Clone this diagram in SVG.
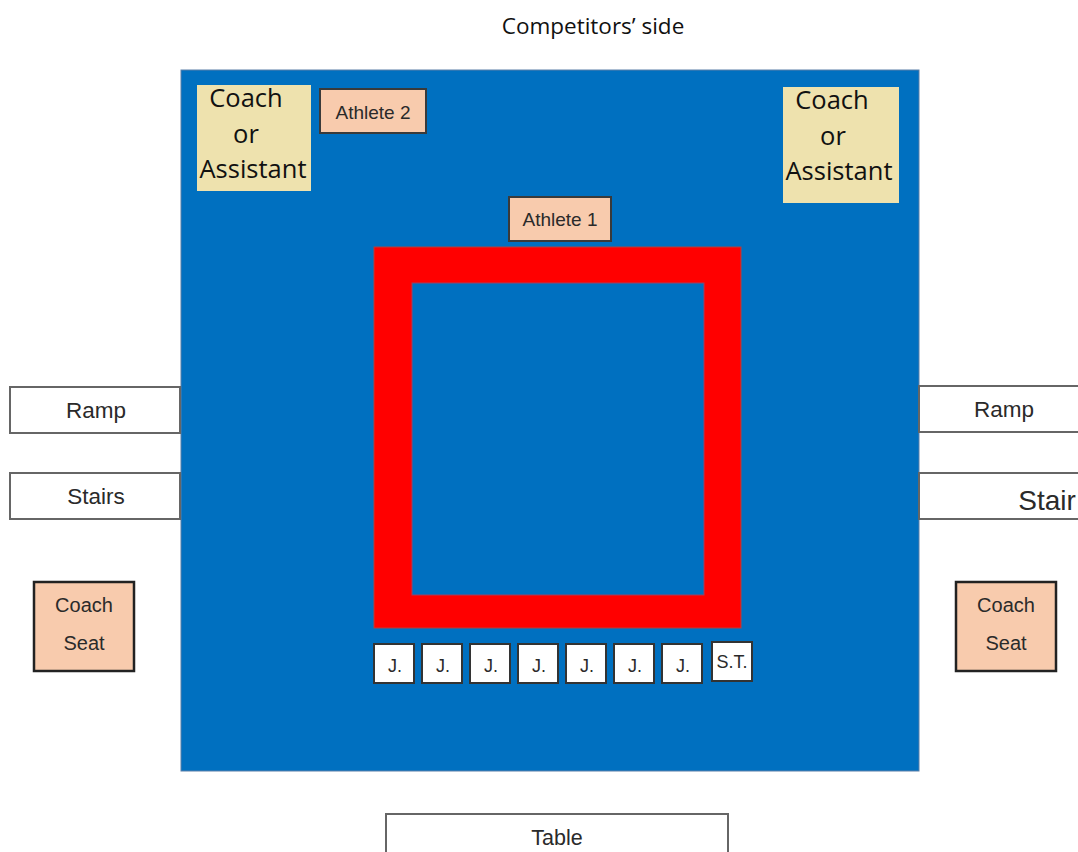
<svg xmlns="http://www.w3.org/2000/svg" width="1078" height="852" viewBox="0 0 1078 852">
<style>
.box{fill:#fff;stroke:#666;stroke-width:2}
.ath{fill:#F8CBAD;stroke:#3a3a3a;stroke-width:2}
.coach{fill:#EEE2AE}
.seat{fill:#F8CBAD;stroke:#222;stroke-width:2.5}
.j{fill:#fff;stroke:#333;stroke-width:2}
.t{font-family:"Liberation Sans",Arial,sans-serif;fill:#2a2a2a;text-anchor:middle}
.c{font-family:"Open Sans","Liberation Sans",sans-serif;fill:#111;text-anchor:middle;font-size:25.5px}
</style>
<rect width="1078" height="852" fill="#fff"/>
<text x="593" y="34" font-family="Open Sans, Liberation Sans, sans-serif" font-size="22.5" fill="#111" text-anchor="middle">Competitors’ side</text>
<g id="floor">
<rect x="181" y="70" width="738" height="701" fill="#0070C0" stroke="#5a7fa8" stroke-width="1"/>
</g>
<g id="mat">
<rect x="374" y="247" width="367" height="381" fill="#FF0000" stroke="#b04040" stroke-width="1"/>
<rect x="412" y="283" width="292" height="312" fill="#0070C0" stroke="#a04060" stroke-width="1"/>
</g>
<g id="coach-left">
<rect class="coach" x="197" y="85" width="114" height="106"/>
<text class="c" x="246" y="107">Coach</text>
<text class="c" x="246" y="143">or</text>
<text class="c" x="253" y="178">Assistant</text>
</g>
<g id="coach-right">
<rect class="coach" x="783" y="87" width="116" height="116"/>
<text class="c" x="832" y="109">Coach</text>
<text class="c" x="833" y="145">or</text>
<text class="c" x="839" y="180">Assistant</text>
</g>
<g id="athlete2">
<rect class="ath" x="320" y="89" width="106" height="44"/>
<text class="t" x="373" y="119" font-size="19">Athlete 2</text>
</g>
<g id="athlete1">
<rect class="ath" x="509" y="197" width="102" height="44"/>
<text class="t" x="560" y="226" font-size="19">Athlete 1</text>
</g>
<g id="ramp-left">
<rect class="box" x="10" y="387" width="170" height="46"/>
<text class="t" x="96" y="418" font-size="22.5">Ramp</text>
</g>
<g id="stairs-left">
<rect class="box" x="10" y="473" width="170" height="46"/>
<text class="t" x="96" y="504" font-size="22.5">Stairs</text>
</g>
<g id="ramp-right">
<rect class="box" x="919" y="386" width="170" height="46"/>
<text class="t" x="1004" y="417" font-size="22.5">Ramp</text>
</g>
<g id="stair-right">
<rect class="box" x="919" y="473" width="170" height="46"/>
<text class="t" x="1047" y="510" font-size="28">Stair</text>
</g>
<g id="seat-left">
<rect class="seat" x="34" y="582" width="100" height="89"/>
<text class="t" x="84" y="612" font-size="20">Coach</text>
<text class="t" x="84" y="650" font-size="20">Seat</text>
</g>
<g id="seat-right">
<rect class="seat" x="956" y="582" width="100" height="89"/>
<text class="t" x="1006" y="612" font-size="20">Coach</text>
<text class="t" x="1006" y="650" font-size="20">Seat</text>
</g>
<g id="judges">
<rect class="j" x="374" y="644" width="40" height="39"/><text class="t" x="395" y="672" font-size="18">J.</text>
<rect class="j" x="422" y="644" width="40" height="39"/><text class="t" x="443" y="672" font-size="18">J.</text>
<rect class="j" x="470" y="644" width="40" height="39"/><text class="t" x="491" y="672" font-size="18">J.</text>
<rect class="j" x="518" y="644" width="40" height="39"/><text class="t" x="539" y="672" font-size="18">J.</text>
<rect class="j" x="566" y="644" width="40" height="39"/><text class="t" x="587" y="672" font-size="18">J.</text>
<rect class="j" x="614" y="644" width="40" height="39"/><text class="t" x="635" y="672" font-size="18">J.</text>
<rect class="j" x="662" y="644" width="40" height="39"/><text class="t" x="683" y="672" font-size="18">J.</text>
<rect class="j" x="712" y="642" width="40" height="39"/><text class="t" x="732" y="668" font-size="18">S.T.</text>
</g>
<g id="table">
<rect class="box" x="386" y="814" width="342" height="50"/>
<text class="t" x="557" y="845" font-size="21.5">Table</text>
</g>
<g id="connectors"/>
</svg>
